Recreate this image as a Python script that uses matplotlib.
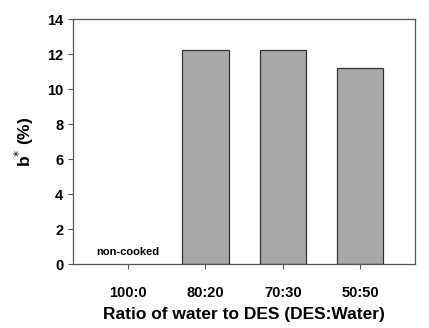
import matplotlib
matplotlib.use('Agg')
import matplotlib.pyplot as plt
import numpy as np

plt.rcParams['font.family'] = ['Liberation Sans', 'DejaVu Sans']

ratios = ['100:0', '80:20', '70:30', '50:50']
b_star = [0, 12.25, 12.25, 11.18]
note_text = 'non-cooked'

fig = plt.figure(figsize=(4.29, 3.28), dpi=100)
ax = fig.add_axes([0.170, 0.195, 0.797, 0.747])

x = np.arange(len(ratios))
ax.bar(x[1:], b_star[1:], width=0.6, color='#a8a8a8', edgecolor='#333333', linewidth=0.9)
ax.text(x[0], 0.7, note_text, ha='center', va='center', fontsize=8, fontweight='bold')

ax.set_xlim(-0.715, 3.71)
ax.set_ylim(0, 14)
ax.set_yticks(range(0, 15, 2))
ax.set_xticks(x)
ax.set_xticklabels(ratios)

for s in ax.spines.values():
    s.set_color('#555555')
    s.set_linewidth(0.9)
ax.tick_params(axis='both', direction='out', length=3.5, width=0.8, color='#555555',
               labelsize=10.5)
for lbl in ax.get_xticklabels() + ax.get_yticklabels():
    lbl.set_fontweight('bold')
ax.tick_params(axis='x', pad=12)

ax.set_xlabel('Ratio of water to DES (DES:Water)', fontsize=12.5, fontweight='bold', labelpad=5)
ax.set_ylabel('b$^{*}$ (%)', fontsize=12.5, fontweight='bold', labelpad=8)

fig.savefig('out.png', dpi=100)
